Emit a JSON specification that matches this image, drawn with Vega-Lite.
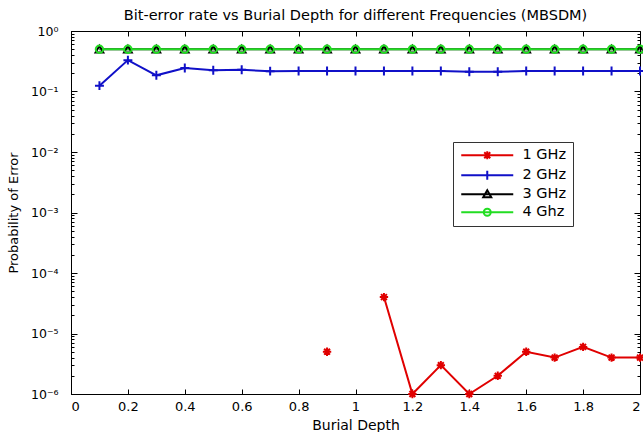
{
  "$schema": "https://vega.github.io/schema/vega-lite/v6.json",
  "width": 569,
  "height": 363,
  "autosize": {"type": "none"},
  "padding": {"left": 71, "top": 31, "right": 3, "bottom": 38},
  "background": "white",
  "config": {
    "font": "DejaVu Sans",
    "view": {"stroke": "#000", "strokeWidth": 1},
    "axis": {
      "grid": false,
      "domainColor": "#000",
      "tickColor": "#000",
      "labelColor": "#000",
      "titleColor": "#000",
      "labelFont": "DejaVu Sans",
      "titleFont": "DejaVu Sans",
      "labelFontSize": 13,
      "titleFontSize": 13,
      "titleFontWeight": "normal"
    }
  },
  "title": {
    "text": "Bit-error rate vs Burial Depth for different Frequencies (MBSDM)",
    "fontSize": 14.5,
    "fontWeight": "normal",
    "font": "DejaVu Sans",
    "color": "#000",
    "anchor": "middle",
    "offset": 2
  },
  "data": {
    "values": [
      {"x": 0.9, "series": "1 GHz", "p": 5e-6},
      {"x": 1.0, "series": "1 GHz", "p": null},
      {"x": 1.1, "series": "1 GHz", "p": 4e-5},
      {"x": 1.2, "series": "1 GHz", "p": 1e-6},
      {"x": 1.3, "series": "1 GHz", "p": 3e-6},
      {"x": 1.4, "series": "1 GHz", "p": 1e-6},
      {"x": 1.5, "series": "1 GHz", "p": 2e-6},
      {"x": 1.6, "series": "1 GHz", "p": 5e-6},
      {"x": 1.7, "series": "1 GHz", "p": 4e-6},
      {"x": 1.8, "series": "1 GHz", "p": 6e-6},
      {"x": 1.9, "series": "1 GHz", "p": 4e-6},
      {"x": 2.0, "series": "1 GHz", "p": 4e-6},
      {"x": 0.1, "series": "2 GHz", "p": 0.125},
      {"x": 0.2, "series": "2 GHz", "p": 0.33},
      {"x": 0.3, "series": "2 GHz", "p": 0.185},
      {"x": 0.4, "series": "2 GHz", "p": 0.245},
      {"x": 0.5, "series": "2 GHz", "p": 0.225},
      {"x": 0.6, "series": "2 GHz", "p": 0.228},
      {"x": 0.7, "series": "2 GHz", "p": 0.217},
      {"x": 0.8, "series": "2 GHz", "p": 0.218},
      {"x": 0.9, "series": "2 GHz", "p": 0.218},
      {"x": 1.0, "series": "2 GHz", "p": 0.218},
      {"x": 1.1, "series": "2 GHz", "p": 0.218},
      {"x": 1.2, "series": "2 GHz", "p": 0.218},
      {"x": 1.3, "series": "2 GHz", "p": 0.218},
      {"x": 1.4, "series": "2 GHz", "p": 0.212},
      {"x": 1.5, "series": "2 GHz", "p": 0.212},
      {"x": 1.6, "series": "2 GHz", "p": 0.218},
      {"x": 1.7, "series": "2 GHz", "p": 0.218},
      {"x": 1.8, "series": "2 GHz", "p": 0.218},
      {"x": 1.9, "series": "2 GHz", "p": 0.218},
      {"x": 2.0, "series": "2 GHz", "p": 0.218},
      {"x": 0.1, "series": "3 GHz", "p": 0.5},
      {"x": 0.2, "series": "3 GHz", "p": 0.5},
      {"x": 0.3, "series": "3 GHz", "p": 0.5},
      {"x": 0.4, "series": "3 GHz", "p": 0.5},
      {"x": 0.5, "series": "3 GHz", "p": 0.5},
      {"x": 0.6, "series": "3 GHz", "p": 0.5},
      {"x": 0.7, "series": "3 GHz", "p": 0.5},
      {"x": 0.8, "series": "3 GHz", "p": 0.5},
      {"x": 0.9, "series": "3 GHz", "p": 0.5},
      {"x": 1.0, "series": "3 GHz", "p": 0.5},
      {"x": 1.1, "series": "3 GHz", "p": 0.5},
      {"x": 1.2, "series": "3 GHz", "p": 0.5},
      {"x": 1.3, "series": "3 GHz", "p": 0.5},
      {"x": 1.4, "series": "3 GHz", "p": 0.5},
      {"x": 1.5, "series": "3 GHz", "p": 0.5},
      {"x": 1.6, "series": "3 GHz", "p": 0.5},
      {"x": 1.7, "series": "3 GHz", "p": 0.5},
      {"x": 1.8, "series": "3 GHz", "p": 0.5},
      {"x": 1.9, "series": "3 GHz", "p": 0.5},
      {"x": 2.0, "series": "3 GHz", "p": 0.5},
      {"x": 0.1, "series": "4 Ghz", "p": 0.5},
      {"x": 0.2, "series": "4 Ghz", "p": 0.5},
      {"x": 0.3, "series": "4 Ghz", "p": 0.5},
      {"x": 0.4, "series": "4 Ghz", "p": 0.5},
      {"x": 0.5, "series": "4 Ghz", "p": 0.5},
      {"x": 0.6, "series": "4 Ghz", "p": 0.5},
      {"x": 0.7, "series": "4 Ghz", "p": 0.5},
      {"x": 0.8, "series": "4 Ghz", "p": 0.5},
      {"x": 0.9, "series": "4 Ghz", "p": 0.5},
      {"x": 1.0, "series": "4 Ghz", "p": 0.5},
      {"x": 1.1, "series": "4 Ghz", "p": 0.5},
      {"x": 1.2, "series": "4 Ghz", "p": 0.5},
      {"x": 1.3, "series": "4 Ghz", "p": 0.5},
      {"x": 1.4, "series": "4 Ghz", "p": 0.5},
      {"x": 1.5, "series": "4 Ghz", "p": 0.5},
      {"x": 1.6, "series": "4 Ghz", "p": 0.5},
      {"x": 1.7, "series": "4 Ghz", "p": 0.5},
      {"x": 1.8, "series": "4 Ghz", "p": 0.5},
      {"x": 1.9, "series": "4 Ghz", "p": 0.5},
      {"x": 2.0, "series": "4 Ghz", "p": 0.5}
    ]
  },
  "layer": [
    {
      "mark": {"type": "line", "strokeWidth": 2, "invalid": "break-paths-filter-domains"},
      "encoding": {
        "x": {
          "field": "x", "type": "quantitative",
          "scale": {"domain": [0, 2], "nice": false, "zero": false},
          "axis": {
            "orient": "bottom",
            "values": [0, 0.2, 0.4, 0.6, 0.8, 1, 1.2, 1.4, 1.6, 1.8, 2],
            "format": "~g",
            "tickSize": -5,
            "labelPadding": 11,
            "title": "Burial Depth",
            "titleFontSize": 14,
            "titlePadding": 5
          }
        },
        "y": {
          "field": "p", "type": "quantitative",
          "scale": {"type": "log", "domain": [0.000001, 1], "nice": false},
          "axis": {
            "orient": "left",
            "values": [0.000001, 0.000002, 0.000003, 0.000004, 0.000005, 0.000006, 0.000007, 0.000008, 0.000009,
                       0.00001, 0.00002, 0.00003, 0.00004, 0.00005, 0.00006, 0.00007, 0.00008, 0.00009,
                       0.0001, 0.0002, 0.0003, 0.0004, 0.0005, 0.0006, 0.0007, 0.0008, 0.0009,
                       0.001, 0.002, 0.003, 0.004, 0.005, 0.006, 0.007, 0.008, 0.009,
                       0.01, 0.02, 0.03, 0.04, 0.05, 0.06, 0.07, 0.08, 0.09,
                       0.1, 0.2, 0.3, 0.4, 0.5, 0.6, 0.7, 0.8, 0.9, 1],
            "labelExpr": "abs(log(datum.value)/LN10 - round(log(datum.value)/LN10)) < 0.01 ? '10' + ['⁰','⁻¹','⁻²','⁻³','⁻⁴','⁻⁵','⁻⁶'][-round(log(datum.value)/LN10)] : ''",
            "tickSize": {"condition": {"test": "abs(log(datum.value)/LN10 - round(log(datum.value)/LN10)) < 0.01", "value": -6}, "value": -3},
            "labelPadding": 19,
            "labelFontSize": 12.5,
            "title": "Probability of Error",
            "titlePadding": 10
          }
        },
        "color": {
          "field": "series", "type": "nominal",
          "scale": {"domain": ["1 GHz", "2 GHz", "3 GHz", "4 Ghz"], "range": ["#e00000", "#1010c8", "#000000", "#22dd22"]},
          "legend": {
            "orient": "none", "legendX": 382, "legendY": 111, "title": null,
            "strokeColor": "#333", "fillColor": "#fff", "padding": 6,
            "labelFontSize": 14.5, "labelColor": "#000", "labelFont": "DejaVu Sans",
            "symbolSize": 100, "symbolStrokeWidth": 2, "symbolOffset": 21, "labelOffset": 28,
            "rowPadding": 2, "symbolOpacity": 1
          }
        }
      }
    },
    {
      "transform": [{"filter": "datum.series === '1 GHz'"}],
      "mark": {"type": "point", "shape": "M0,-1V1M-1,0H1M-0.7,-0.7L0.7,0.7M-0.7,0.7L0.7,-0.7", "size": 70, "strokeWidth": 2, "color": "#e00000", "filled": false, "opacity": 1},
      "encoding": {
        "x": {
          "field": "x", "type": "quantitative",
          "axis": {"orient": "top", "values": [0, 0.2, 0.4, 0.6, 0.8, 1, 1.2, 1.4, 1.6, 1.8, 2], "labels": false, "tickSize": -5, "domain": false, "title": null}
        },
        "y": {
          "field": "p", "type": "quantitative",
          "axis": {
            "orient": "right",
            "values": [0.000001, 0.000002, 0.000003, 0.000004, 0.000005, 0.000006, 0.000007, 0.000008, 0.000009,
                       0.00001, 0.00002, 0.00003, 0.00004, 0.00005, 0.00006, 0.00007, 0.00008, 0.00009,
                       0.0001, 0.0002, 0.0003, 0.0004, 0.0005, 0.0006, 0.0007, 0.0008, 0.0009,
                       0.001, 0.002, 0.003, 0.004, 0.005, 0.006, 0.007, 0.008, 0.009,
                       0.01, 0.02, 0.03, 0.04, 0.05, 0.06, 0.07, 0.08, 0.09,
                       0.1, 0.2, 0.3, 0.4, 0.5, 0.6, 0.7, 0.8, 0.9, 1],
            "labels": false,
            "domain": false,
            "tickSize": {"condition": {"test": "abs(log(datum.value)/LN10 - round(log(datum.value)/LN10)) < 0.01", "value": -6}, "value": -3},
            "title": null
          }
        }
      }
    },
    {
      "transform": [{"filter": "datum.series === '2 GHz'"}],
      "mark": {"type": "point", "shape": "M0,-1V1M-1,0H1", "size": 80, "strokeWidth": 2, "color": "#1010c8", "filled": false, "opacity": 1},
      "encoding": {
        "x": {"field": "x", "type": "quantitative", "axis": null},
        "y": {"field": "p", "type": "quantitative", "axis": null}
      }
    },
    {
      "transform": [{"filter": "datum.series === '3 GHz'"}],
      "mark": {"type": "point", "shape": "triangle-up", "size": 60, "strokeWidth": 2, "color": "#000000", "filled": false, "opacity": 1},
      "encoding": {
        "x": {"field": "x", "type": "quantitative", "axis": null},
        "y": {"field": "p", "type": "quantitative", "axis": null}
      }
    },
    {
      "transform": [{"filter": "datum.series === '4 Ghz'"}],
      "mark": {"type": "point", "shape": "circle", "size": 55, "strokeWidth": 2, "color": "#22dd22", "filled": false, "opacity": 1},
      "encoding": {
        "x": {"field": "x", "type": "quantitative", "axis": null},
        "y": {"field": "p", "type": "quantitative", "axis": null}
      }
    },
    {
      "mark": {"type": "point", "filled": false, "opacity": 0},
      "encoding": {
        "x": {"field": "x", "type": "quantitative", "axis": null},
        "y": {"field": "p", "type": "quantitative", "axis": null},
        "color": {
          "field": "series", "type": "nominal",
          "legend": {
            "orient": "none", "legendX": 382, "legendY": 111, "title": null,
            "strokeColor": "#333", "fillColor": "#fff", "padding": 6,
            "labelFontSize": 14.5, "labelColor": "#000", "labelFont": "DejaVu Sans",
            "symbolSize": 100, "symbolStrokeWidth": 2, "symbolOffset": 21, "labelOffset": 28,
            "rowPadding": 2, "symbolOpacity": 1
          }
        },
        "shape": {
          "field": "series", "type": "nominal",
          "scale": {
            "domain": ["1 GHz", "2 GHz", "3 GHz", "4 Ghz"],
            "range": [
              "M-5.2,0H5.2M0,-0.8V0.8M-0.6,-0.6L0.6,0.6M-0.6,0.6L0.6,-0.6",
              "M-5.2,0H5.2M0,-0.9V0.9",
              "M-5.2,0H5.2M0,-0.8L0.8,0.6H-0.8Z",
              "M-5.2,0H5.2M0.7,0A0.7,0.7 0 1 1 -0.7,0A0.7,0.7 0 1 1 0.7,0"
            ]
          },
          "legend": {
            "orient": "none", "legendX": 382, "legendY": 111, "title": null,
            "strokeColor": "#333", "fillColor": "#fff", "padding": 6,
            "labelFontSize": 14.5, "labelColor": "#000", "labelFont": "DejaVu Sans",
            "symbolSize": 100, "symbolStrokeWidth": 2, "symbolOffset": 21, "labelOffset": 28,
            "rowPadding": 2, "symbolOpacity": 1
          }
        }
      }
    }
  ]
}
